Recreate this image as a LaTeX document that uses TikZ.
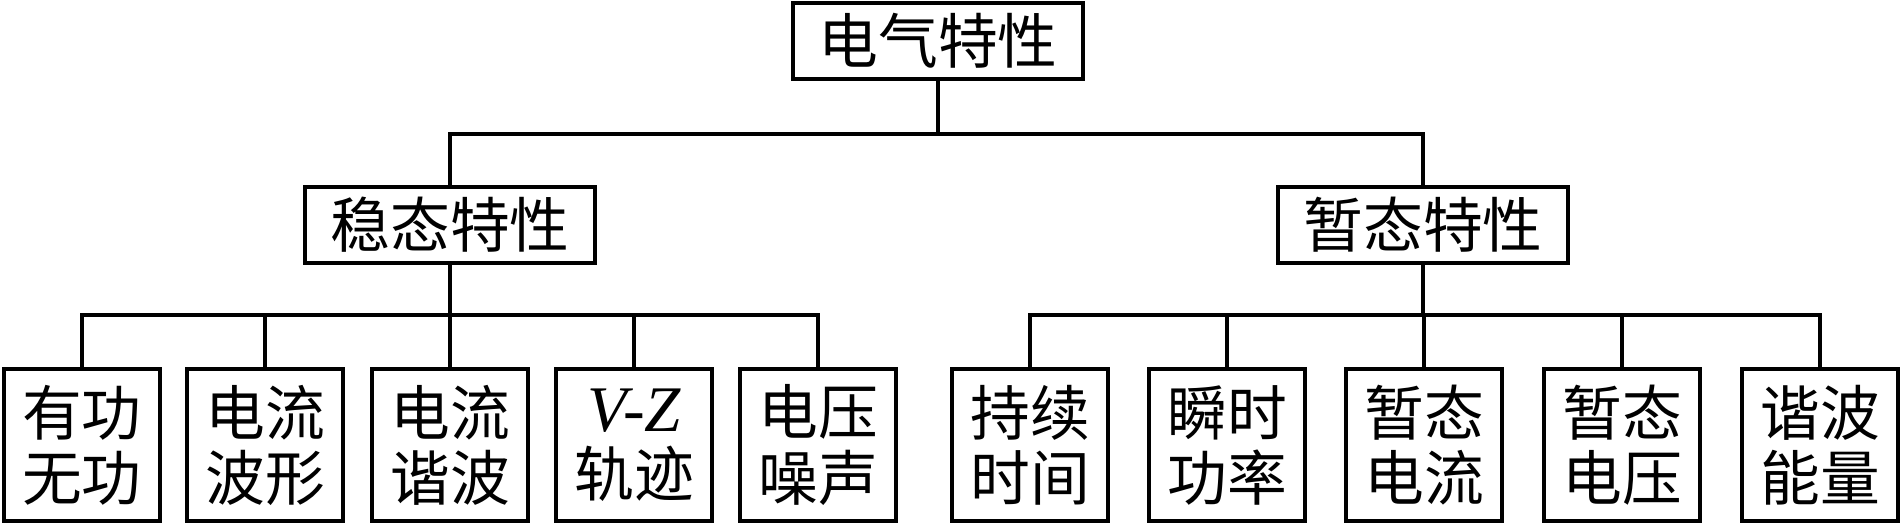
\documentclass[tikz,border=0pt]{standalone}
\usepackage{fontspec}
\setmainfont{Liberation Serif}
\newfontfamily\cjk{Noto Sans CJK SC}
\usetikzlibrary{positioning, calc}

\begin{document}
\begin{tikzpicture}[x=0.01cm,y=-0.01cm,line width=1.14pt,
  box/.style={draw,line width=1.14pt,inner sep=0pt,align=center,font=\cjk\fontsize{17pt}{18.5pt}\selectfont},
  head/.style={box,minimum width=2.9cm,minimum height=0.76cm},
  leaf/.style={box,minimum width=1.56cm,minimum height=1.52cm}]
\useasboundingbox (0,0) rectangle (1900,525);

\node[head](elec)   at (938,41)  {电气特性};
\node[head](steady) at (450,225) {稳态特性};
\node[head](trans)  at (1423,225) {暂态特性};

\node[leaf](s1) at (82,445)  {有功\\无功};
\node[leaf](s2) at (265,445) {电流\\波形};
\node[leaf](s3) at (450,445) {电流\\谐波};
\node[leaf](s4) at (634,445) {{\rmfamily\itshape\fontsize{18.5pt}{18.5pt}\selectfont V-Z}\\轨迹};
\node[leaf](s5) at (818,445) {电压\\噪声};

\node[leaf](t1) at (1030,445) {持续\\时间};
\node[leaf](t2) at (1227,445) {瞬时\\功率};
\node[leaf](t3) at (1424,445) {暂态\\电流};
\node[leaf](t4) at (1622,445) {暂态\\电压};
\node[leaf](t5) at (1820,445) {谐波\\能量};

\draw (elec.south) -- ++(0,53) -| (steady.north);
\draw (elec.south) -- ++(0,53) -| (trans.north);
\foreach \n in {s1,s2,s3,s4,s5}
  \draw (steady.south) -- ++(0,50) -| (\n.north);
\foreach \n in {t1,t2,t3,t4,t5}
  \draw (trans.south) -- ++(0,50) -| (\n.north);
\end{tikzpicture}
\end{document}
